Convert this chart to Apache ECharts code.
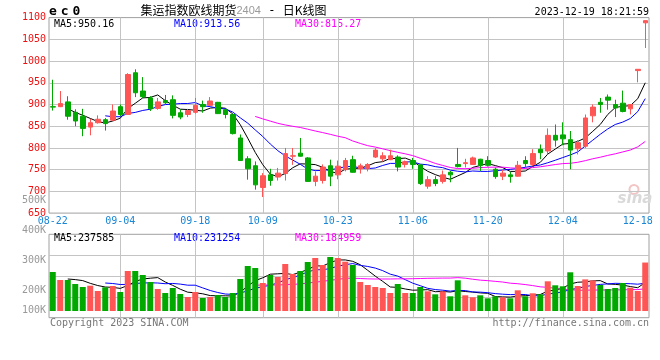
<!DOCTYPE html>
<html><head><meta charset="utf-8">
<script src="https://cdn.jsdelivr.net/npm/echarts@6/dist/echarts.min.js"></script>
<style>html,body{margin:0;padding:0;background:#fff}#c{width:660px;height:360px}</style>
</head><body><div id="c"></div>
<script>
const dates = ['08-22','08-23','08-24','08-25','08-28','08-29','08-30','08-31',
'09-01','09-04','09-05','09-06','09-07','09-08','09-11','09-12','09-13','09-14','09-15','09-18','09-19','09-20','09-21','09-22','09-25','09-26','09-27','09-28',
'10-09','10-10','10-11','10-12','10-13','10-16','10-17','10-18','10-19','10-20','10-23','10-24','10-25','10-26','10-27','10-30','10-31',
'11-01','11-02','11-03','11-06','11-07','11-08','11-09','11-10','11-13','11-14','11-15','11-16','11-17','11-20','11-21','11-22','11-23','11-24','11-27','11-28','11-29','11-30',
'12-01','12-04','12-05','12-06','12-07','12-08','12-11','12-12','12-13','12-14','12-15','12-18','12-19'];
const tickLabels = ['08-22','09-04','09-18','10-09','10-23','11-06','11-20','12-04','12-18'];
const gridDates = ['09-04','09-18','10-09','10-23','11-06','11-20','12-04'];

const open = [895,895,906,882,873,848,858,865,864,895, 877,973,931,915,891,909,911,881,877,882, 900,898,905,888,877,823,775,759,709,738, 733,741,781,788,777,723,725,759,738,750, 773,752,752,779,775,773,779,762,771,761, 712,727,723,744,762,764,762,774,771,751, 735,738,735,771,762,797,793,829,830,819, 798,804,874,905,917,900,903,890,978,1088];
const close = [894,902,873,862,845,858,866,856,885,877, 969,927,918,890,906,904,875,871,886,898, 895,908,879,877,833,771,752,715,736,725, 742,787,782,781,723,735,756,735,758,771, 744,759,762,795,782,782,756,768,762,718, 727,718,738,738,757,766,777,760,760,734, 742,734,760,764,787,789,829,818,821,795, 812,869,894,900,910,892,884,900,981,1093];
const low = [886,894,865,850,827,829,856,840,862,873, 876,917,915,885,888,900,868,866,871,879, 881,896,878,868,831,770,727,704,687,713, 725,725,761,780,722,712,718,712,728,746, 743,741,746,777,769,772,746,755,752,715, 706,712,718,721,755,755,761,747,757,729, 726,720,734,756,758,774,785,803,806,751, 785,800,859,881,888,871,882,877,951,1030];
const high = [957,931,919,889,890,867,875,869,900,900, 972,981,963,919,915,922,921,889,890,915, 909,917,906,890,879,831,781,769,742,752, 754,800,800,823,779,746,762,773,771,777, 782,764,765,800,790,796,783,771,777,762, 735,735,748,747,800,775,780,775,781,755, 749,745,770,781,797,808,845,854,859,839, 818,877,900,915,923,911,932,900,981,1093];

const ma5 = [null,null,890.4,881.8,875.2,868.0,860.8,857.4,862.0,868.4,890.6,902.8,915.2,916.2,922.0,909.0,898.6,889.2,888.4,886.8,885.0,891.6,893.2,891.4,878.4,853.6,822.4,789.6,761.4,739.8,734.0,741.0,754.4,763.4,763.0,761.6,755.4,746.0,741.4,751.0,752.8,753.4,758.8,766.2,768.4,776.0,775.4,776.6,770.0,757.2,746.2,738.6,732.6,727.8,735.6,743.4,755.2,759.6,764.0,759.4,754.6,746.0,746.0,746.8,757.4,766.8,785.8,797.4,808.8,810.4,815.0,823.0,838.2,854.0,877.0,893.0,896.0,897.2,913.4,950.0];
const ma10 = [null,null,null,null,null,null,null,873.9,871.9,871.8,879.3,881.8,886.3,889.1,895.2,899.8,900.7,902.2,902.3,904.4,897.0,895.1,891.2,889.9,882.6,869.3,857.0,841.4,826.4,809.1,793.8,781.7,772.0,762.4,751.4,747.8,748.2,750.2,752.4,757.0,757.2,754.4,752.4,753.8,759.7,764.4,764.4,767.7,768.1,762.8,761.1,757.0,754.6,748.9,746.4,744.8,746.9,746.1,745.9,747.5,749.0,750.6,752.8,755.4,758.4,760.7,765.9,771.7,777.8,783.9,790.9,804.4,817.8,831.4,843.7,854.0,859.5,867.7,883.7,913.5];
const ma30 = [null,null,null,null,null,null,null,null,null,null,null,null,null,null,null,null,null,null,null,null,null,null,null,null,null,null,null,872.5,866.9,861.8,856.7,852.9,849.8,847.1,843.1,839.0,835.3,831.3,827.0,823.5,816.0,810.4,805.2,802.0,797.9,793.8,789.9,786.4,782.3,776.3,770.7,764.4,759.7,755.0,752.5,752.3,753.2,754.7,755.5,755.8,755.8,754.0,753.3,752.7,754.8,756.6,759.1,761.8,763.9,764.7,767.0,770.7,775.1,778.6,782.8,786.5,790.8,795.2,802.5,815.0];

const volume = [324500,257900,257900,224600,199700,210500,166400,197200,208000,158100, 332800,332800,299500,241300,183000,149800,191400,141400,116500,158100, 108200,116500,133100,116500,149800,266200,374400,357800,233000,299500, 282900,391000,307800,332800,407700,441000,382700,449300,441000,410200, 382700,241300,216300,199700,191400,149800,224600,149800,149800,199700, 163900,138900,163900,122300,255400,130600,114000,130600,105700,122300, 114000,105700,172200,122300,147300,138900,247100,213800,205500,322000, 208000,262900,254600,216300,183000,191400,233000,193900,166400,403200];
const volMa5 = [null,null,266240,261240,252920,230120,211820,199680,196360,188040,212500,245780,266240,272900,277880,241280,213000,181380,156420,151440,143120,128140,126480,126480,124820,156420,208000,252940,276240,306180,309520,312840,302840,322800,344440,376060,374400,402700,424340,424840,413180,384900,338300,290040,246280,199700,196360,183060,173080,174740,177560,160420,163240,157740,168880,162220,157240,150580,147260,120640,117320,115660,123980,127300,132300,137280,165560,173880,190520,225460,239280,242440,250600,252760,224960,221640,215660,203520,193540,237580];
const volMa10 = [null,null,null,null,null,null,null,232960,228800,220480,221310,228800,232960,234630,232960,226890,229390,223810,214660,214660,192200,170570,153930,141450,138130,149770,168070,189710,201360,215500,232970,260420,277890,299520,325310,342790,343620,352770,373570,384640,394620,379650,370500,357190,335560,306440,290630,260680,231560,210510,188630,178390,173150,165410,171810,169890,158830,156910,152500,144760,139770,136450,137280,137280,126470,127300,140610,148930,158910,178880,188280,204000,212240,221640,225210,230460,229050,227060,223150,231270];
const volMa30 = [null,null,null,null,null,null,null,null,null,null,null,null,null,null,null,null,null,null,null,null,null,null,null,null,null,null,null,215490,214940,216880,215490,219930,221590,225200,232130,239820,247030,255430,263200,271600,273260,270210,267440,266050,266330,266330,267440,267720,268830,270220,272070,272820,273850,274040,277560,273040,264360,256790,252540,246640,241010,231500,226980,219960,211280,201210,196690,188840,180990,178050,172230,172950,174220,174780,174500,175880,176160,177630,178190,184970];

const priceTicks = [650, 700, 750, 800, 850, 900, 950, 1000, 1050, 1100];
const volLabelTicks = [100000, 200000, 300000, 400000, 500000];
const volGridSteps = [1, 2, 3];

const MONO = '"DejaVu Sans Mono", monospace';
const RED = '#ff5555', GREEN = '#00a800';
const GRIDLINE = {color:'#c4c4c4', type:'solid', width:1};
const HIDDEN_TICK = {show:true, length:0, lineStyle:{color:'rgba(0,0,0,0)', width:0}};

const candleData = dates.map((d, i) => [open[i], close[i], low[i], high[i]]);
const volData = volume.map((v, i) => ({value: v, itemStyle: {color: close[i] >= open[i] ? RED : GREEN}}));
const empty = dates.map(() => null);

const chart = echarts.init(document.getElementById('c'));
const lineS = (name, data, color, xi, yi) => ({
  name, type:'line', data, xAxisIndex:xi, yAxisIndex:yi, showSymbol:false, symbol:'none',
  lineStyle:{color, width:1}, itemStyle:{color}, silent:true, z:3
});
const gridMark = (items) => ({silent:true, z:0, zlevel:0, symbol:['none','none'], label:{show:false}, emphasis:{disabled:true},
  lineStyle:GRIDLINE, animation:false, data:items});
const txt = (x, y, text, color, align) => ({type:'text', x, y, silent:true,
  style:{text, fill:color, font:'10px ' + MONO, align: align || 'left', verticalAlign:'middle'}});

chart.setOption({
  animation:false,
  grid:[
    {left:49, right:11, top:17.6, height:195.5, show:true, borderColor:'#a0a0a0', borderWidth:1},
    {left:49, right:11, top:234.3, height:83.4, show:true, borderColor:'#a0a0a0', borderWidth:1},
    {left:49, right:11, top:200.7, height:120}
  ],
  xAxis:[
    {type:'category', data:dates, gridIndex:0, boundaryGap:true,
     axisLine:{show:false}, axisTick:HIDDEN_TICK,
     axisLabel:{interval:(i, v) => tickLabels.includes(v), color:'#1a86d6', fontFamily:MONO, fontSize:10, margin:3},
     splitLine:{show:false}},
    {type:'category', data:dates, gridIndex:1, boundaryGap:true,
     axisLine:{show:false}, axisTick:HIDDEN_TICK, axisLabel:{show:false}, splitLine:{show:false}},
    {type:'category', data:dates, gridIndex:2, show:false}
  ],
  yAxis:[
    {type:'value', gridIndex:0, min:priceTicks[0], max:priceTicks[priceTicks.length-1], interval:50,
     axisLine:{show:false}, axisTick:HIDDEN_TICK,
     axisLabel:{color:'#ee1111', fontFamily:MONO, fontSize:10, margin:3, padding:[0,0,3,0], formatter:v => String(v)},
     splitLine:{show:false}},
    {type:'value', gridIndex:1, min:-55700, max:638100, show:false, splitLine:{show:false}},
    {type:'value', gridIndex:1, min:0, max:4, interval:1, position:'left', show:false, splitLine:{show:false}},
    {type:'value', gridIndex:2, min:volLabelTicks[0], max:volLabelTicks[volLabelTicks.length-1], interval:100000,
     axisLine:{show:false}, axisTick:{show:false}, splitLine:{show:false},
     axisLabel:{color:'#999999', fontFamily:MONO, fontSize:10, margin:3,
       formatter:v => v === volLabelTicks[0] ? '{s|' + (v/1000) + 'K}' : (v/1000) + 'K',
       rich:{s:{padding:[0,0,20,0], color:'#999999', fontFamily:MONO, fontSize:10}}}}
  ],
  series:[
    {type:'line', name:'priceGrid', data:empty, xAxisIndex:0, yAxisIndex:0, symbol:'none', silent:true, z:0,
     markLine:gridMark(priceTicks.slice(1, -1).map(v => ({yAxis:v})).concat(gridDates.map(d => ({xAxis:d}))))},
    {type:'line', name:'volGrid', data:empty, xAxisIndex:1, yAxisIndex:2, symbol:'none', silent:true, z:0,
     markLine:gridMark(volGridSteps.map(v => ({yAxis:v})).concat(gridDates.map(d => ({xAxis:d}))))},
    {type:'candlestick', name:'K', data:candleData, xAxisIndex:0, yAxisIndex:0, barWidth:5, z:4,
     itemStyle:{color:RED, color0:GREEN, borderColor:RED, borderColor0:GREEN, borderWidth:1}, silent:true},
    lineS('MA5', ma5, '#000000', 0, 0),
    lineS('MA10', ma10, '#0000ff', 0, 0),
    lineS('MA30', ma30, '#ff00ff', 0, 0),
    {type:'bar', name:'VOL', data:volData, xAxisIndex:1, yAxisIndex:1, barWidth:6, silent:true, z:4},
    lineS('VMA5', volMa5, '#000000', 1, 1),
    lineS('VMA10', volMa10, '#0000ff', 1, 1),
    lineS('VMA30', volMa30, '#ff00ff', 1, 1)
  ],
  graphic:[
    {type:'text', x:49, y:11.5, silent:true, style:{text:'{e|e}{e|c}{e|0}', verticalAlign:'middle', align:'left',
      rich:{e:{width:11.7, font:'bold 13px ' + MONO, fill:'#000'}}}},
    {type:'text', x:140.5, y:10.5, silent:true, style:{text:'{a|集运指数欧线期货}{b|2404}{m| - }{a|日K线图}', verticalAlign:'middle', align:'left',
      rich:{a:{font:'12px "Noto Sans CJK SC"', fill:'#000'}, b:{font:'11px "Liberation Sans"', fill:'#9a9a9a'}, m:{font:'12px ' + MONO, fill:'#000'}}}},
    txt(649, 12, '2023-12-19 18:21:59', '#000', 'right'),
    txt(54, 24, 'MA5:950.16', '#000'),
    txt(174, 24, 'MA10:913.56', '#0000ff'),
    txt(295, 24, 'MA30:815.27', '#ff00ff'),
    txt(54, 238.5, 'MA5:237585', '#000'),
    txt(174, 238.5, 'MA10:231254', '#0000ff'),
    txt(295, 238.5, 'MA30:184959', '#ff00ff'),
    txt(50, 323.5, 'Copyright 2023 SINA.COM', '#777'),
    txt(649, 323.5, 'http://finance.sina.com.cn', '#777', 'right'),
    {type:'circle', silent:true, shape:{cx:634, cy:189.5, r:4.5}, style:{fill:'none', stroke:'#f2c4c4', lineWidth:2}},
    {type:'text', x:635, y:199.5, silent:true, style:{text:'sina', font:'italic bold 15px "DejaVu Sans"', fill:'#d9d9d9', align:'center', verticalAlign:'middle'}}
  ]
});
</script></body></html>
